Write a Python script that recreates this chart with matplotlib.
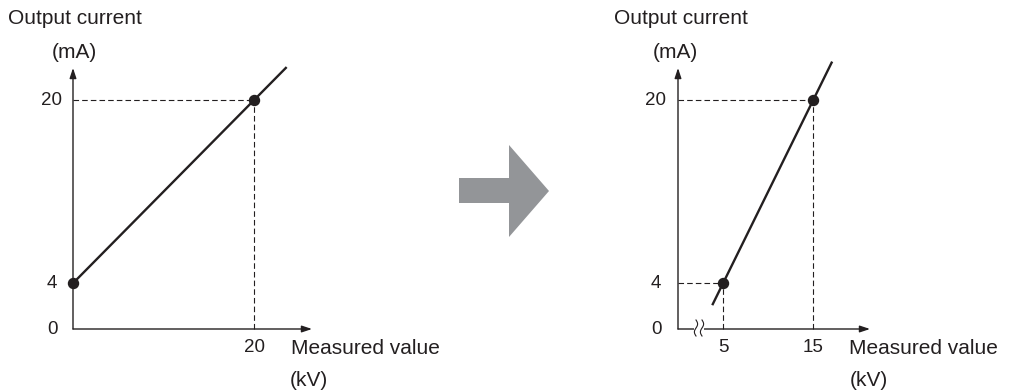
import numpy as np
import matplotlib
matplotlib.use("Agg")
import matplotlib.pyplot as plt
from matplotlib.patches import Polygon, Rectangle
from matplotlib.lines import Line2D

plt.rcParams['font.family'] = ['Liberation Sans', 'DejaVu Sans']

# Data
y_ticks = [0, 4, 20]
y_tick_labels = ["0", "4", "20"]

left_x_points = [0, 20]          # kV
left_y_points = [4, 20]          # mA
left_x_ticks = [20]
left_x_tick_labels = ["20"]

right_x_points = [5, 15]         # kV
right_y_points = [4, 20]         # mA
right_x_ticks = [5, 15]
right_x_tick_labels = ["5", "15"]

INK = "#231f20"
W, H = 1010, 391
fig = plt.figure(figsize=(W / 100, H / 100), dpi=100)


def frac_box(x0, x1, ytop, ybot):
    """Axes rect from pixel extents (origin top-left)."""
    return [x0 / W, (H - ybot) / H, (x1 - x0) / W, (ybot - ytop) / H]


def make_panel(rect, xlim, ylim):
    ax = fig.add_axes(rect)
    ax.set_xlim(*xlim)
    ax.set_ylim(*ylim)
    ax.axis("off")
    # axis arrows
    ax.annotate("", xy=(1, 0), xytext=(0, 0), xycoords="axes fraction",
                arrowprops=dict(arrowstyle="-|>,head_length=0.6,head_width=0.2",
                                color=INK, lw=1.0, shrinkA=0, shrinkB=0))
    ax.annotate("", xy=(0, 1), xytext=(0, 0), xycoords="axes fraction",
                arrowprops=dict(arrowstyle="-|>,head_length=0.6,head_width=0.2",
                                color=INK, lw=1.0, shrinkA=0, shrinkB=0))
    return ax


def line_through(ax, xs, ys, x_lo, x_hi):
    slope = (ys[1] - ys[0]) / (xs[1] - xs[0])
    xe = np.array([x_lo, x_hi])
    ye = ys[0] + slope * (xe - xs[0])
    ax.plot(xe, ye, color=INK, lw=1.7, solid_capstyle="butt", clip_on=False, zorder=3)
    ax.plot(xs, ys, "o", color=INK, ms=7.2, clip_on=False, zorder=4)


def guides(ax, x, y):
    dash = (0, (5, 2.8))
    ax.plot([0, x], [y, y], color=INK, lw=0.8, ls=dash, zorder=2, clip_on=False)
    ax.plot([x, x], [0, y], color=INK, lw=0.8, ls=dash, zorder=2, clip_on=False)


def y_labels(ax, dx):
    for v, lab in zip(y_ticks, y_tick_labels):
        ax.annotate(lab, xy=(0, v), xycoords="data", xytext=(dx, 0),
                    textcoords="offset pixels", ha="center", va="center",
                    fontsize=13.5, color=INK)


def x_labels(ax, ticks, labels):
    for v, lab in zip(ticks, labels):
        ax.annotate(lab, xy=(v, 0), xycoords="data", xytext=(0, -19),
                    textcoords="offset pixels", ha="center", va="center",
                    fontsize=13.5, color=INK)


# Left panel
axL = make_panel(frac_box(73, 312, 68, 329), (0, 26.4), (0, 22.8))
guides(axL, left_x_points[1], left_y_points[1])
line_through(axL, left_x_points, left_y_points, 0, 23.6)
y_labels(axL, -21)
x_labels(axL, left_x_ticks, left_x_tick_labels)

# Right panel
axR = make_panel(frac_box(678, 870, 68, 329), (0, 21.3), (0, 22.8))
for xv, yv in zip(right_x_points, right_y_points):
    guides(axR, xv, yv)
line_through(axR, right_x_points, right_y_points, 3.8, 17.1)
y_labels(axR, -22)
x_labels(axR, right_x_ticks, right_x_tick_labels)

# Axis break marks on the right x-axis
fig.add_artist(Rectangle((694 / W, (H - 332) / H), 10 / W, 7 / H,
                         transform=fig.transFigure, facecolor="white",
                         edgecolor="none", zorder=5))
t = np.linspace(0, 1, 40)
for cx in (696, 702):
    xs = cx + 1.6 * np.sin(2 * np.pi * t)
    ys = 320 + 16 * t
    fig.add_artist(Line2D(xs / W, (H - ys) / H, transform=fig.transFigure,
                          color=INK, lw=0.8, zorder=6))

# Titles and axis units
txt = dict(fontsize=15, color=INK, va="center", ha="left")
fig.text(8 / W, (H - 19) / H, "Output current", **txt)
fig.text(52 / W, (H - 53) / H, "(mA)", **txt)
fig.text(291 / W, (H - 348) / H, "Measured value", **txt)
fig.text(290 / W, (H - 380) / H, "(kV)", **txt)

fig.text(614 / W, (H - 19) / H, "Output current", **txt)
fig.text(653 / W, (H - 53) / H, "(mA)", **txt)
fig.text(849 / W, (H - 348) / H, "Measured value", **txt)
fig.text(850 / W, (H - 380) / H, "(kV)", **txt)

# Big grey arrow between panels
arrow_px = [(459, 178), (509, 178), (509, 145), (549, 191),
            (509, 237), (509, 203), (459, 203)]
fig.add_artist(Polygon([(x / W, (H - y) / H) for x, y in arrow_px],
                       closed=True, transform=fig.transFigure,
                       facecolor="#939598", edgecolor="none"))

fig.savefig("out.png", dpi=100, facecolor="white")
